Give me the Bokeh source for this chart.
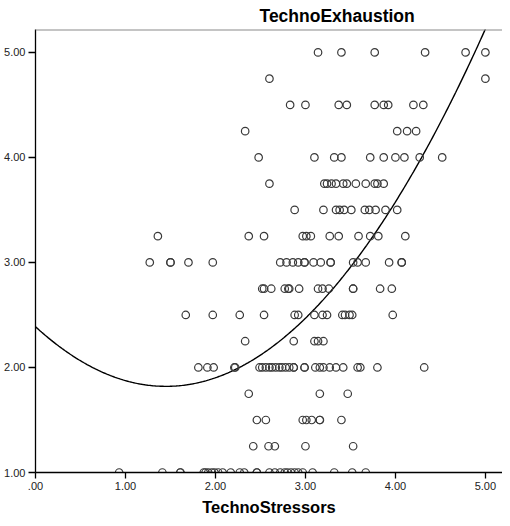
import numpy as np
from bokeh.plotting import figure
from bokeh.models import Range1d, FixedTicker, Span, ColumnDataSource
from bokeh.embed import file_html
from bokeh.resources import INLINE

# ---- data: TechnoStressors values observed at each TechnoExhaustion level ----
levels = [5.00, 4.75, 4.50, 4.25, 4.00, 3.75, 3.50, 3.25, 3.00, 2.75, 2.50, 2.25, 2.00, 1.75, 1.50, 1.25, 1.00]

ex_500 = [3.14, 3.40, 3.77, 4.33, 4.78, 5.00]
ex_475 = [2.60, 5.00]
ex_450 = [2.83, 3.00, 3.37, 3.46, 3.77, 3.87, 3.92, 4.20, 4.31]
ex_425 = [2.33, 4.02, 4.13, 4.23]
ex_400 = [2.48, 3.10, 3.32, 3.40, 3.72, 3.87, 4.00, 4.10, 4.27, 4.52]
ex_375 = [2.60, 3.21, 3.24, 3.29, 3.34, 3.42, 3.46, 3.56, 3.67, 3.77, 3.80, 3.87]
ex_350 = [2.88, 3.20, 3.34, 3.38, 3.43, 3.51, 3.66, 3.71, 3.78, 3.89, 4.02]
ex_325 = [1.36, 2.37, 2.54, 2.97, 3.01, 3.06, 3.27, 3.37, 3.59, 3.72, 3.81, 4.11]
ex_300 = [1.27, 1.50, 1.50, 1.70, 1.97, 2.72, 2.79, 2.86, 2.92, 2.99, 2.99, 3.09, 3.17,
          3.28, 3.28, 3.53, 3.58, 3.67, 3.93, 4.07, 4.07]
ex_275 = [2.52, 2.54, 2.62, 2.77, 2.81, 2.82, 2.93, 3.14, 3.19, 3.26, 3.53, 3.53, 3.83, 3.96]
ex_250 = [1.67, 1.97, 2.27, 2.54, 2.88, 2.92, 3.10, 3.19, 3.24, 3.41, 3.44, 3.49, 3.52, 3.97]
ex_225 = [2.33, 2.87, 3.10, 3.14, 3.20]
ex_200 = [1.81, 1.91, 1.98, 2.21, 2.22, 2.49, 2.52, 2.56, 2.60, 2.63, 2.67, 2.71, 2.74, 2.78,
          2.82, 2.87, 2.87, 2.99, 2.99, 3.11, 3.16, 3.20, 3.27, 3.34, 3.42, 3.58, 3.61, 3.80, 4.32]
ex_175 = [2.37, 3.16, 3.47]
ex_150 = [2.46, 2.56, 2.97, 3.01, 3.07, 3.16, 3.16, 3.40]
ex_125 = [2.42, 2.59, 2.66, 3.00, 3.53]
ex_100 = [0.93, 1.41, 1.61, 1.61, 1.87, 1.89, 1.92, 1.96, 1.99, 2.03, 2.08, 2.17, 2.27, 2.32,
          2.46, 2.46, 2.60, 2.66, 2.72, 2.77, 2.80, 2.84, 2.88, 2.92, 2.97, 3.08, 3.32, 3.52, 3.67]

rows = [ex_500, ex_475, ex_450, ex_425, ex_400, ex_375, ex_350, ex_325, ex_300,
        ex_275, ex_250, ex_225, ex_200, ex_175, ex_150, ex_125, ex_100]

# quadratic fit line coefficients (y = b0 + b1*x + b2*x^2)
fit_b0 = 2.388
fit_b1 = -0.783
fit_b2 = 0.27

x_ticks = [0, 1, 2, 3, 4, 5]
y_ticks = [1, 2, 3, 4, 5]
x_tick_labels = {0: ".00", 1: "1.00", 2: "2.00", 3: "3.00", 4: "4.00", 5: "5.00"}
y_tick_labels = {1: "1.00", 2: "2.00", 3: "3.00", 4: "4.00", 5: "5.00"}

x_end = 5.19
y_end = 5.218

xs, ys = [], []
for lev, row in zip(levels, rows):
    xs.extend(row)
    ys.extend([lev] * len(row))
src = ColumnDataSource(dict(x=xs, y=ys))

fx = np.linspace(0, x_end, 300)
fy = fit_b0 + fit_b1 * fx + fit_b2 * fx ** 2

p = figure(width=502, height=518, output_backend="svg", toolbar_location=None,
           x_range=Range1d(0, x_end), y_range=Range1d(1.0, y_end),
           min_border_left=35, min_border_right=0, min_border_top=21, min_border_bottom=0,
           title="TechnoExhaustion")
p.background_fill_color = "white"
p.border_fill_color = "white"
p.outline_line_color = None
p.grid.visible = False

p.title.align = "left"
p.title.offset = 224
p.title.text_font = "Liberation Sans"
p.title.text_font_size = "17.5px"
p.title.text_font_style = "bold"
p.title.text_color = "black"
p.title.standoff = 7

for ax in (p.xaxis[0], p.yaxis[0]):
    ax.axis_line_color = "black"
    ax.axis_line_width = 1.3
    ax.major_tick_line_color = "black"
    ax.major_tick_line_width = 1.3
    ax.major_tick_in = 0
    ax.minor_tick_line_color = None
    ax.major_label_text_font = "Liberation Sans"
    ax.major_label_text_font_size = "11px"
    ax.major_label_text_color = "#222222"

p.xaxis.ticker = FixedTicker(ticks=x_ticks)
p.yaxis.ticker = FixedTicker(ticks=y_ticks)
p.xaxis.major_label_overrides = x_tick_labels
p.yaxis.major_label_overrides = y_tick_labels
p.xaxis.major_tick_out = 6
p.yaxis.major_tick_out = 7
p.xaxis.major_label_standoff = 3
p.yaxis.major_label_standoff = 3

p.xaxis.axis_label = "TechnoStressors"
p.xaxis.axis_label_text_font = "Liberation Sans"
p.xaxis.axis_label_text_font_size = "16.5px"
p.xaxis.axis_label_text_font_style = "bold"
p.xaxis.axis_label_text_color = "black"
p.xaxis.axis_label_standoff = 5

# top frame border
p.add_layout(Span(location=y_end, dimension="width", line_color="#8a8a8a", line_width=2))

p.line(fx, fy, line_color="black", line_width=1.4)
p.scatter("x", "y", source=src, marker="circle", size=7.5, fill_color=None,
          line_color="#3a3a3a", line_width=1.2)

open("out.html", "w").write(file_html(p, INLINE))
